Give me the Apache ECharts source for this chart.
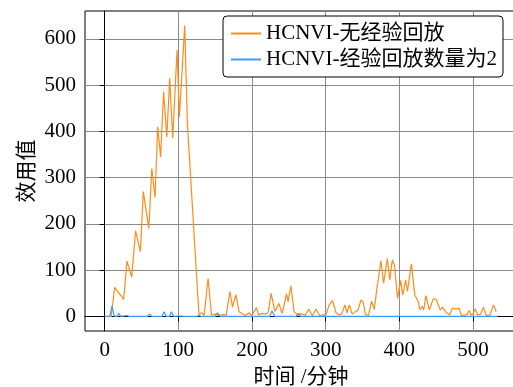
<!DOCTYPE html>
<html>
<head>
<meta charset="utf-8">
<script src="https://cdn.jsdelivr.net/npm/echarts@6/dist/echarts.min.js"></script>
<style>
  html, body { margin: 0; padding: 0; background: #fff; }
  #chart { width: 513px; height: 387px; }
</style>
</head>
<body>
<div id="chart"></div>
<script>
// Tick positions for both axes
const xTicks = [0, 100, 200, 300, 400, 500];
const yTicks = [0, 100, 200, 300, 400, 500, 600];

// Legend / series names
const seriesNames = ['HCNVI-无经验回放', 'HCNVI-经验回放数量为2'];

// Utility without experience replay (time in minutes, value)
const noReplayTime = [
  5, 9, 13.6, 25.8, 30.3, 36.7, 42, 48.5, 52.5, 60, 64, 68.4, 72, 76, 80, 84.4, 88.3, 92.4,
  98.3, 101.5, 108.7, 112.3, 114.5, 128, 132, 135, 140.4, 145, 150, 155, 160, 165,
  170, 173.5, 178, 182.5, 187, 191, 196, 200, 206, 209, 214, 218, 222, 226, 231,
  236.5, 241, 246.8, 249, 252.7, 257.2, 262, 267, 272, 277, 282, 287, 292, 297,
  300, 304.8, 309.3, 314, 319, 322, 326, 329, 332, 336, 341, 344, 348, 351, 354,
  358, 362.3, 366, 369, 375, 378.6, 383.7, 387, 390.4, 393.5, 397.5, 401.8, 404.5,
  408.5, 411, 416.3, 421, 425.5, 428, 431, 433, 436, 440.6, 446, 450, 455.5, 458.7,
  463, 468, 472, 476.5, 481, 484, 488, 492, 495, 497, 500, 503, 506, 510, 514, 518,
  523, 527.6, 531.5
];
const noReplayValue = [
  0, 0, 63, 37, 120, 85, 185, 140, 270, 190, 320, 257, 410, 345, 486, 388, 515, 386,
  576, 432, 629, 417, 421, 4, 8, 2, 82, 3, 5, 2, 4, 3,
  54, 20, 47, 10, 6, 2, 8, 2, 19, 3, 7, 5, 9, 50, 11,
  28, 6, 49, 32, 66, 10, 3, 6, 2, 16, 1, 16, 1, 4,
  2, 25, 34, 8, 3, 6, 25, 8, 25, 5, 11, 14, 36, 30, 4,
  2, 33, 15, 54, 121, 72, 125, 79, 122, 110, 39, 78, 46,
  79, 54, 114, 46, 33, 14, 22, 14, 45, 14, 38, 37, 14, 20,
  10, 3, 18, 16, 18, 3, 2, 5, 13, 3, 6, 16, 4, 4, 20, 2,
  3, 25, 10
];

// Utility with two replayed experiences
const replayTime = [
  0, 7, 10, 13, 17, 19, 22, 26, 30, 34, 58, 61, 64, 78, 80.6, 84, 88, 90.6, 94, 100,
  110, 125, 128, 132, 150, 153, 157, 188, 190, 193, 224, 227, 231, 260, 263, 266,
  374, 376, 378, 392, 394, 396, 533
];
const replayValue = [
  0, 0, 23, 1, 0, 7, 0, 1, 2, 0, 0, 5, 0, 0, 10, 0, 0, 10, 0, 1,
  0, 0, 2, 0, 0, 8, 0, 0, 2, 0, 0, 12, 0, 0, 7, 0,
  0, 3, 0, 0, 4, 0, 0
];

const FONT = "'Liberation Serif', 'Noto Sans CJK SC', serif";
const FS = 21;
const ORANGE = '#ff8c1a';
const BLUE = '#3d9bff';

function pairs(t, v) { return t.map((x, i) => [x, v[i]]); }

const chart = echarts.init(document.getElementById('chart'), null, { renderer: 'canvas' });

const gridLine = { show: true, lineStyle: { color: '#8a8a8a', width: 1 } };

chart.setOption({
  animation: false,
  backgroundColor: '#fff',
  textStyle: { fontFamily: FONT },
  grid: {
    left: 85, right: -4, top: 11, bottom: 56,
    outerBoundsMode: 'none',
    containLabel: false,
    show: true, borderColor: '#000', borderWidth: 1, backgroundColor: 'transparent'
  },
  legend: {
    orient: 'vertical',
    left: 223, top: 16,
    padding: [7, 6, 7, 7],
    itemWidth: 30, itemHeight: 14, itemGap: 5,
    backgroundColor: '#fff',
    borderColor: '#000', borderWidth: 1, borderRadius: 4,
    itemStyle: { opacity: 0 },
    textStyle: { fontFamily: FONT, fontSize: FS, color: '#000', lineHeight: 20 },
    data: seriesNames
  },
  xAxis: {
    type: 'value',
    min: -26.65, max: 559.65,
    name: '时间 /分钟',
    nameLocation: 'middle', nameGap: 36, nameMoveOverlap: false,
    nameTextStyle: { fontFamily: FONT, fontSize: FS, color: '#000' },
    axisLine: { show: true, lineStyle: { color: '#000', width: 1 } },
    axisTick: { show: true, inside: false, length: 5, customValues: xTicks, lineStyle: { color: '#000' } },
    axisLabel: { customValues: xTicks, fontFamily: FONT, fontSize: FS, color: '#000', margin: 9 },
    splitLine: gridLine
  },
  yAxis: {
    type: 'value',
    min: -31.45, max: 660.45,
    name: '效用值',
    nameLocation: 'middle', nameGap: 47, nameRotate: 90, nameMoveOverlap: false,
    nameTextStyle: { fontFamily: FONT, fontSize: FS, color: '#000' },
    axisLine: { show: true, lineStyle: { color: '#000', width: 1 } },
    axisTick: { show: true, inside: false, length: 5, customValues: yTicks, lineStyle: { color: '#000' } },
    axisLabel: { customValues: yTicks, fontFamily: FONT, fontSize: FS, color: '#000', margin: 9 },
    splitLine: gridLine
  },
  series: [
    {
      name: seriesNames[0], type: 'line', symbol: 'none',
      data: pairs(noReplayTime, noReplayValue),
      lineStyle: { color: ORANGE, width: 1.2 }, itemStyle: { color: ORANGE }
    },
    {
      name: seriesNames[1], type: 'line', symbol: 'none',
      data: pairs(replayTime, replayValue),
      lineStyle: { color: BLUE, width: 1.2 }, itemStyle: { color: BLUE }
    }
  ]
});
</script>
</body>
</html>
